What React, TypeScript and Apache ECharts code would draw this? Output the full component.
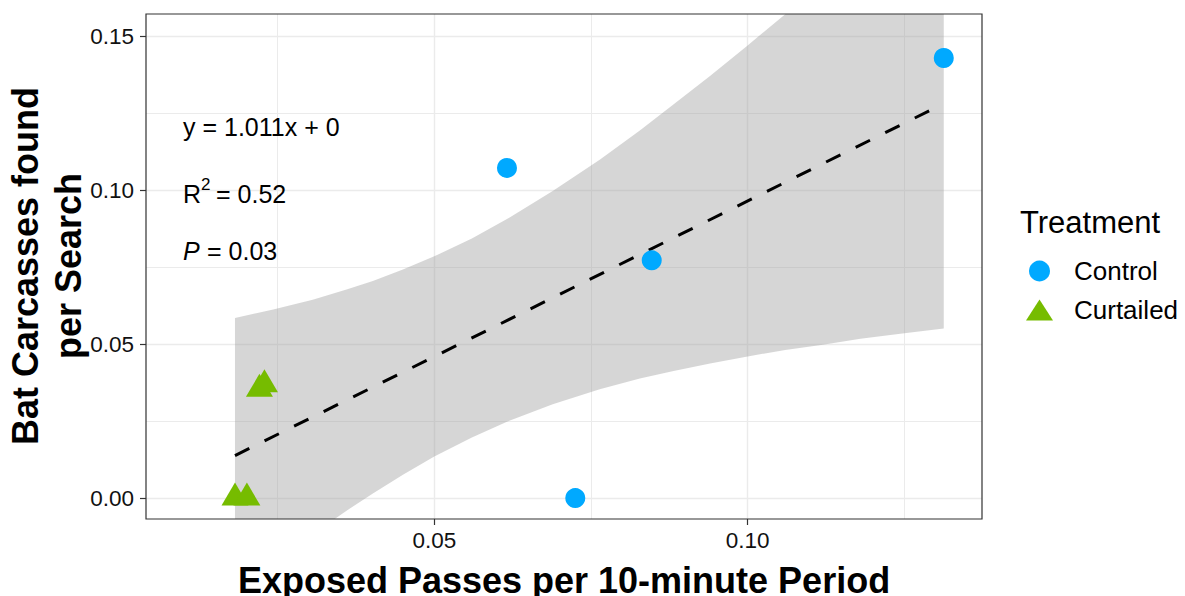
import React, { useEffect, useRef } from "react";
import * as echarts from "echarts";

// ---- data ----
const controlX = [0.0616, 0.0725, 0.0847, 0.1313];
const controlY = [0.1072, 0.0, 0.0772, 0.1429];

const curtailedX = [0.0182, 0.0201, 0.0221, 0.0229];
const curtailedY = [0.0, 0.0, 0.0353, 0.0368];

// fitted regression line (end points)
const fitX = [0.0182, 0.1313];
const fitY = [0.0138, 0.1281];

// confidence band (upper / lower bounds)
const bandX = [0.0182, 0.0243, 0.0306, 0.036, 0.0402, 0.045, 0.05, 0.056, 0.0616, 0.0689, 0.0764, 0.0828, 0.088, 0.094, 0.1, 0.106, 0.112, 0.118, 0.125, 0.1313];
const bandUpper = [0.0585, 0.0612, 0.0644, 0.0677, 0.0705, 0.0742, 0.0785, 0.0843, 0.0906, 0.0997, 0.1099, 0.1194, 0.1276, 0.1371, 0.147, 0.1571, 0.1674, 0.1777, 0.1901, 0.2011];
const bandLower = [-0.0306, -0.0212, -0.0118, -0.0041, 0.0015, 0.0076, 0.0135, 0.0197, 0.0248, 0.0305, 0.0353, 0.0388, 0.0412, 0.0437, 0.046, 0.0481, 0.0498, 0.0517, 0.0535, 0.0551];

const xMajor = [0.05, 0.1];
const xMinor = [0.025, 0.075, 0.125];
const yMajor = [0, 0.05, 0.1, 0.15];
const yMinor = [0.025, 0.075, 0.125];
const xRange = [0.004, 0.1374];
const yRange = [-0.0068, 0.1572];

const xTitle = "Exposed Passes per 10-minute Period";
const yTitle = "Bat Carcasses found\nper Search";
const legendTitle = "Treatment";
const eqText = "y = 1.011x + 0";
const r2Value = "= 0.52";
const pValue = "= 0.03";

const FONT = "'Liberation Sans', Arial, Helvetica, sans-serif";
const GRID_COLOR = "#EBEBEB";

export default function App() {
  const ref = useRef<HTMLDivElement>(null);

  useEffect(() => {
    document.body.style.margin = "0";
    const chart = echarts.init(ref.current!, null, { renderer: "svg" });

    const majorAxisCommon = (vals: number[], margin: number) => ({
      type: "value" as const,
      axisLine: { show: false, onZero: false },
      axisTick: {
        show: true,
        inside: false,
        length: 6,
        lineStyle: { color: "#333333", width: 1.2 },
        customValues: vals,
      },
      axisLabel: {
        customValues: vals,
        formatter: (v: number) => v.toFixed(2),
        fontSize: 22.5,
        color: "#111111",
        fontFamily: FONT,
        margin,
      },
      splitLine: { show: true, lineStyle: { color: GRID_COLOR, width: 1.4 } },
    });

    const minorAxisCommon = (vals: number[]) => ({
      type: "value" as const,
      axisLine: { show: false, onZero: false },
      axisTick: { show: false, customValues: vals },
      axisLabel: { show: false, customValues: vals },
      splitLine: { show: true, lineStyle: { color: GRID_COLOR, width: 1 } },
    });

    const option: any = {
      animation: false,
      backgroundColor: "#ffffff",
      grid: { left: 146, right: 203, top: 14, bottom: 77, show: false },
      xAxis: [
        { ...majorAxisCommon(xMajor, 10), min: xRange[0], max: xRange[1], position: "bottom" },
        { ...minorAxisCommon(xMinor), min: xRange[0], max: xRange[1], position: "bottom" },
      ],
      yAxis: [
        { ...majorAxisCommon(yMajor, 12), min: yRange[0], max: yRange[1], position: "left" },
        { ...minorAxisCommon(yMinor), min: yRange[0], max: yRange[1], position: "left" },
      ],
      legend: {
        orient: "vertical",
        left: 1021,
        top: 253,
        itemWidth: 27,
        itemHeight: 21,
        itemGap: 13,
        data: [
          { name: "Control", icon: "circle" },
          { name: "Curtailed", icon: "triangle" },
        ],
        textStyle: { fontSize: 26, color: "#000", fontFamily: FONT, padding: [0, 0, 0, 16] },
      },
      series: [
        {
          type: "custom",
          name: "band",
          xAxisIndex: 0,
          yAxisIndex: 0,
          silent: true,
          clip: true,
          z: 1,
          data: [[bandX[0], bandLower[0]]],
          renderItem: (_params: any, api: any) => {
            const pts: number[][] = [];
            for (let i = 0; i < bandX.length; i++) pts.push(api.coord([bandX[i], bandUpper[i]]));
            for (let i = bandX.length - 1; i >= 0; i--) pts.push(api.coord([bandX[i], bandLower[i]]));
            return {
              type: "polygon",
              shape: { points: pts },
              style: { fill: "rgba(153,153,153,0.4)", stroke: "none" },
            };
          },
        },
        {
          type: "line",
          name: "fit",
          xAxisIndex: 0,
          yAxisIndex: 0,
          silent: true,
          z: 2,
          symbol: "none",
          data: fitX.map((x, i) => [x, fitY[i]]),
          lineStyle: { color: "#000000", width: 3, type: [16, 17], cap: "butt" },
        },
        {
          type: "scatter",
          name: "Control",
          xAxisIndex: 0,
          yAxisIndex: 0,
          z: 3,
          symbol: "circle",
          symbolSize: 20,
          itemStyle: { color: "#00A9FF", opacity: 1 },
          data: controlX.map((x, i) => [x, controlY[i]]),
        },
        {
          type: "scatter",
          name: "Curtailed",
          xAxisIndex: 0,
          yAxisIndex: 0,
          z: 3,
          symbol: "triangle",
          symbolSize: [27, 23],
          symbolOffset: [0, -4],
          itemStyle: { color: "#76BC00", opacity: 1 },
          data: curtailedX.map((x, i) => [x, curtailedY[i]]),
        },
      ],
      graphic: [
        {
          type: "rect",
          z: 100,
          silent: true,
          shape: { x: 146, y: 14, width: 836, height: 505 },
          style: { fill: "none", stroke: "#333333", lineWidth: 1.2 },
        },
        {
          type: "text",
          x: 564,
          y: 580,
          style: { text: xTitle, font: `bold 36px ${FONT}`, fill: "#000", align: "center", verticalAlign: "middle" },
        },
        {
          type: "text",
          x: 47,
          y: 266,
          rotation: Math.PI / 2,
          style: {
            text: yTitle,
            font: `bold 36px ${FONT}`,
            fill: "#000",
            align: "center",
            verticalAlign: "middle",
            lineHeight: 43,
          },
        },
        {
          type: "text",
          x: 1020,
          y: 222,
          style: { text: legendTitle, font: `31px ${FONT}`, fill: "#000", align: "left", verticalAlign: "middle" },
        },
        {
          type: "text",
          x: 183,
          y: 127,
          z: 50,
          style: { text: eqText, font: `25px ${FONT}`, fill: "#000", align: "left", verticalAlign: "middle" },
        },
        {
          type: "text",
          x: 183,
          y: 194,
          z: 50,
          style: { text: "R", font: `25px ${FONT}`, fill: "#000", align: "left", verticalAlign: "middle" },
        },
        {
          type: "text",
          x: 201,
          y: 184,
          z: 50,
          style: { text: "2", font: `17px ${FONT}`, fill: "#000", align: "left", verticalAlign: "middle" },
        },
        {
          type: "text",
          x: 216,
          y: 194,
          z: 50,
          style: { text: r2Value, font: `25px ${FONT}`, fill: "#000", align: "left", verticalAlign: "middle" },
        },
        {
          type: "text",
          x: 183,
          y: 251,
          z: 50,
          style: { text: "P", font: `italic 25px ${FONT}`, fill: "#000", align: "left", verticalAlign: "middle" },
        },
        {
          type: "text",
          x: 207,
          y: 251,
          z: 50,
          style: { text: pValue, font: `25px ${FONT}`, fill: "#000", align: "left", verticalAlign: "middle" },
        },
      ],
    };

    chart.setOption(option);
    return () => chart.dispose();
  }, []);

  return <div ref={ref} style={{ width: 1185, height: 596 }} />;
}
